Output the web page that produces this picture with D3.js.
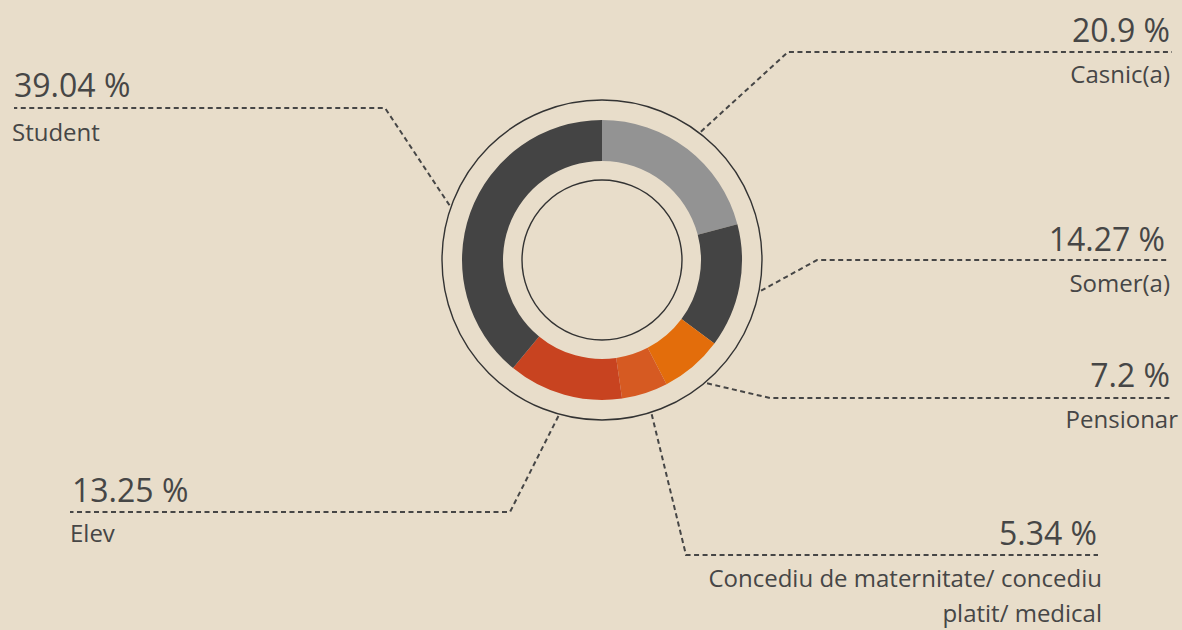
<!DOCTYPE html>
<html>
<head>
<meta charset="utf-8">
<script src="https://cdn.jsdelivr.net/npm/d3@7"></script>
<style>
  html, body { margin: 0; padding: 0; background: #e8ddca; }
  svg { display: block; font-family: "Open Sans", sans-serif; }
</style>
</head>
<body>
<div id="vis"></div>
<script>
const FRAME_WIDTH = 1182;
const FRAME_HEIGHT = 630;

// data, clockwise from the top
const categories = ["Casnic(a)", "Somer(a)", "Pensionar",
  "Concediu de maternitate/ concediu platit/ medical", "Elev", "Student"];
const values = [20.9, 14.27, 7.2, 5.34, 13.25, 39.04];
const valueLabels = ["20.9 %", "14.27 %", "7.2 %", "5.34 %", "13.25 %", "39.04 %"];
const labelLines = [["Casnic(a)"], ["Somer(a)"], ["Pensionar"],
  ["Concediu de maternitate/ concediu", "platit/ medical"], ["Elev"], ["Student"]];

const COLORS = ["#939393", "#444444", "#e36d0b", "#d65a22", "#c84320", "#444444"];
const INK = "#464646";

// where each label sits (elbow of the leader, far end of the line, text baselines)
const LAYOUT = [
  {elbow: [788, 52],  endX: 1172, anchor: "end",   numX: 1170, numY: 42,  labX: 1170, labY: 83},
  {elbow: [817, 260], endX: 1168, anchor: "end",   numX: 1165, numY: 251, labX: 1170, labY: 292},
  {elbow: [770, 398], endX: 1172, anchor: "end",   numX: 1170, numY: 387, labX: 1178, labY: 428},
  {elbow: [686, 555], endX: 1098, anchor: "end",   numX: 1097, numY: 545, labX: 1102, labY: 587},
  {elbow: [510, 512], endX: 70,   anchor: "start", numX: 72,   numY: 502, labX: 70,   labY: 542},
  {elbow: [385, 108], endX: 14,   anchor: "start", numX: 14,   numY: 97,  labX: 12,  labY: 141}
];

const CX = 602, CY = 260;

const svg = d3.select("#vis")
  .append("svg")
  .attr("width", FRAME_WIDTH)
  .attr("height", FRAME_HEIGHT);

svg.append("rect")
  .attr("width", FRAME_WIDTH)
  .attr("height", FRAME_HEIGHT)
  .attr("fill", "#e8ddca");

const g = svg.append("g").attr("transform", `translate(${CX},${CY})`);

const pie = d3.pie().sort(null).value(d => d);
const arcs = pie(values);
const arc = d3.arc().innerRadius(99).outerRadius(140);

g.selectAll("path.slice")
  .data(arcs)
  .enter()
  .append("path")
    .attr("class", "slice")
    .attr("d", arc)
    .attr("fill", (d, i) => COLORS[i]);

// thin rings
[160, 80].forEach(r => {
  g.append("circle")
    .attr("r", r)
    .attr("fill", "none")
    .attr("stroke", "#333")
    .attr("stroke-width", 1.4);
});

// leader lines
arcs.forEach((d, i) => {
  const L = LAYOUT[i];
  const a = (d.startAngle + d.endAngle) / 2;
  const p0 = [CX + 162 * Math.sin(a), CY - 162 * Math.cos(a)];
  const line = d3.line();
  svg.append("path")
    .attr("d", line([p0, L.elbow, [L.endX, L.elbow[1]]]))
    .attr("fill", "none")
    .attr("stroke", INK)
    .attr("stroke-width", 2)
    .attr("stroke-dasharray", "5,3.5");

  svg.append("text")
    .attr("x", L.numX)
    .attr("y", L.numY)
    .attr("text-anchor", L.anchor)
    .attr("font-size", 32)
    .attr("fill", INK)
    .text(valueLabels[i]);

  labelLines[i].forEach((t, k) => {
    svg.append("text")
      .attr("x", L.labX)
      .attr("y", L.labY + k * 35)
      .attr("text-anchor", L.anchor)
      .attr("font-size", 24)
      .attr("fill", INK)
      .text(t);
  });
});
</script>
</body>
</html>
